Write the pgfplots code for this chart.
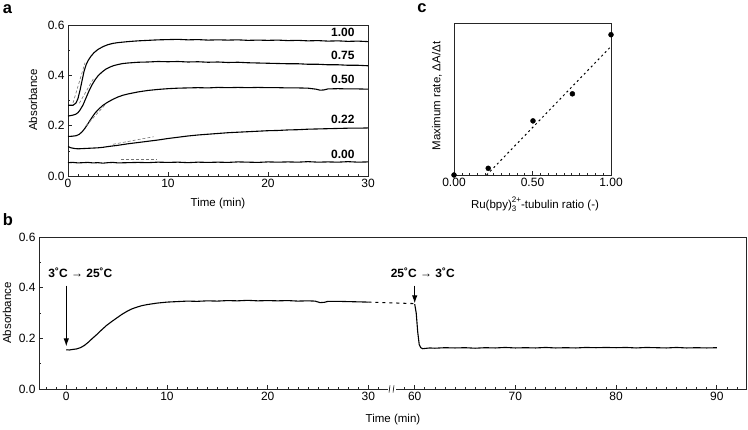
\documentclass[border=0pt]{standalone}
\usepackage{pgfplots}
\pgfplotsset{compat=1.18}
\usepackage{fontspec}
\setmainfont{Liberation Sans}
\usetikzlibrary{arrows.meta}

\pgfplotsset{
  myax/.style={scale only axis, clip=false,
    axis line style={line width=0.8pt, black!85},
    every tick/.style={black!85, line width=0.6pt},
    major tick length=4pt, minor tick length=2pt, tick align=inside,
    xtick pos=left, ytick pos=left,
    tick label style={font=\fontsize{12}{14}\selectfont},
    /pgf/number format/assume math mode=true},
  curve/.style={black, line width=1.1pt, no markers},
  tang/.style={black!55, line width=0.6pt, dash pattern=on 3pt off 2pt},
  yfmt/.style={yticklabel style={/pgf/number format/.cd, fixed, fixed zerofill, precision=1}},
}

\begin{document}
\begin{tikzpicture}[x=1pt,y=1pt]
\useasboundingbox (0,0) rectangle (748,429);

% ---------------- panel a ----------------
\begin{axis}[myax, yfmt, at={(68pt,253pt)}, anchor=south west,
  width=300pt, height=151pt,
  xmin=0, xmax=30, ymin=0, ymax=0.6,
  xtick={0,10,20,30}, minor x tick num=9,
  ytick={0,0.2,0.4,0.6}, minor y tick num=1]
\addplot[curve] table {
0 0.281
0.5 0.281
0.8 0.290
1.0 0.308
1.2 0.340
1.4 0.378
1.6 0.415
1.8 0.441
2.0 0.458
2.3 0.476
2.6 0.490
3.0 0.503
3.5 0.514
4.0 0.522
4.5 0.527
5.0 0.530
6.0 0.534
7.0 0.537
8.0 0.539
9.0 0.541
10 0.542
11 0.543
12 0.541
13 0.542
14 0.540
15 0.541
16 0.540
17 0.541
18 0.539
19 0.540
20 0.539
21 0.540
22 0.538
23 0.539
24 0.537
25 0.538
26 0.536
27 0.537
28 0.535
29 0.536
30 0.534
};
\addplot[curve] table {
0 0.238
0.5 0.242
0.8 0.246
1.0 0.252
1.2 0.262
1.5 0.282
1.8 0.310
2.1 0.338
2.4 0.362
2.7 0.382
3.0 0.398
3.4 0.413
3.8 0.425
4.2 0.433
4.6 0.439
5.0 0.443
5.5 0.447
6.0 0.449
7.0 0.452
8.0 0.453
9.0 0.455
10 0.454
11 0.455
12 0.453
13 0.454
14 0.452
15 0.453
16 0.451
17 0.452
18 0.450
19 0.449
20 0.448
21 0.447
22 0.446
23 0.446
24 0.444
25 0.444
26 0.442
27 0.442
28 0.440
29 0.440
30 0.438
};
\addplot[curve] table {
0 0.157
0.4 0.158
0.8 0.160
1.1 0.165
1.4 0.175
1.7 0.190
2.0 0.208
2.3 0.227
2.7 0.250
3.1 0.267
3.5 0.281
4.0 0.294
4.5 0.305
5.0 0.314
5.5 0.321
6.0 0.326
7.0 0.334
8.0 0.340
9.0 0.344
10 0.347
11 0.349
12 0.350
13 0.351
14 0.350
15 0.352
16 0.351
17 0.352
18 0.351
19 0.352
20 0.351
21 0.351
22 0.350
23 0.350
24 0.349
24.8 0.345
25.2 0.341
25.6 0.342
26 0.346
27 0.347
28 0.346
29 0.346
30 0.345
};
\addplot[curve] table {
0 0.117
0.3 0.112
0.7 0.109
1.0 0.108
1.5 0.109
2.0 0.110
2.5 0.111
3.0 0.112
3.5 0.114
4.0 0.117
5.0 0.122
6.0 0.128
7.0 0.133
8.0 0.138
9.0 0.143
10 0.149
11 0.154
12 0.159
13 0.163
14 0.166
15 0.169
16 0.172
17 0.174
18 0.176
19 0.178
20 0.180
21 0.181
22 0.183
23 0.184
24 0.186
25 0.187
26 0.188
27 0.189
28 0.190
29 0.190
30 0.191
};
\addplot[curve] table {
0 0.053
0.5 0.054
1 0.052
1.5 0.053
2 0.054
2.5 0.052
3 0.053
3.5 0.051
4 0.053
4.5 0.054
5 0.052
6 0.053
7 0.054
8 0.053
9 0.055
10 0.054
11 0.055
12 0.053
13 0.055
14 0.054
15 0.055
16 0.054
17 0.056
18 0.055
19 0.054
20 0.056
21 0.055
22 0.056
23 0.055
24 0.057
25 0.055
26 0.056
27 0.055
28 0.057
29 0.055
30 0.056
};
% tangents
\addplot[tang] coordinates {(0.5,0.29) (1.7,0.45)};
\addplot[tang] coordinates {(1.13,0.289) (2.62,0.392)};
\addplot[tang] coordinates {(1.79,0.199) (3.85,0.289)};
\addplot[tang] coordinates {(4.5,0.126) (8.55,0.156)};
\addplot[tang] coordinates {(5.3,0.065) (8.9,0.065)};
\node[anchor=east, font=\bfseries\fontsize{12}{14}\selectfont] at (axis cs:29.0,0.572) {1.00};
\node[anchor=east, font=\bfseries\fontsize{12}{14}\selectfont] at (axis cs:29.0,0.478) {0.75};
\node[anchor=east, font=\bfseries\fontsize{12}{14}\selectfont] at (axis cs:29.0,0.384) {0.50};
\node[anchor=east, font=\bfseries\fontsize{12}{14}\selectfont] at (axis cs:29.0,0.226) {0.22};
\node[anchor=east, font=\bfseries\fontsize{12}{14}\selectfont] at (axis cs:29.0,0.087) {0.00};
\end{axis}

% ---------------- panel c ----------------
\begin{axis}[myax, at={(454pt,254pt)}, anchor=south west,
  width=157pt, height=152pt,
  xmin=0, xmax=1, ymin=0, ymax=1,
  xtick={0,0.5,1}, xticklabels={0.00,0.50,1.00}, minor x tick num=9,
  ytick=\empty]
\addplot[black, line width=1pt, dash pattern=on 2pt off 3pt] coordinates {(0.208,0) (1.0,0.846)};
\addplot[only marks, mark=*, mark size=2.5pt, black] coordinates {
(0,0) (0.218,0.044) (0.503,0.356) (0.754,0.534) (1.0,0.923)};
\end{axis}

% ---------------- panel b ----------------
\begin{axis}[myax, yfmt, at={(39pt,40pt)}, anchor=south west,
  width=707pt, height=152pt,
  xmin=-2.71, xmax=67.5, ymin=0, ymax=0.6,
  xtick={0,10,20,30,34.6,44.6,54.6,64.6},
  xticklabels={0,10,20,30,60,70,80,90},
  minor xtick={-2,-1,1,2,3,4,5,6,7,8,9,11,12,13,14,15,16,17,18,19,21,22,23,24,25,26,27,28,29,31,33.6,35.6,36.6,37.6,38.6,39.6,40.6,41.6,42.6,43.6,45.6,46.6,47.6,48.6,49.6,50.6,51.6,52.6,53.6,55.6,56.6,57.6,58.6,59.6,60.6,61.6,62.6,63.6,65.6,66.6},
  ytick={0,0.2,0.4,0.6}, minor y tick num=1]
\addplot[curve] table {
0 0.155
0.3 0.154
0.6 0.156
1.0 0.158
1.4 0.163
1.8 0.172
2.2 0.185
2.6 0.200
3.0 0.214
3.5 0.233
4.0 0.251
4.5 0.266
5.0 0.280
5.5 0.294
6.0 0.306
6.5 0.316
7.0 0.323
7.5 0.329
8.0 0.333
9.0 0.339
10 0.343
11 0.345
12 0.347
13 0.346
14 0.348
15 0.347
16 0.349
17 0.348
18 0.350
19 0.348
20 0.349
21 0.348
22 0.349
23 0.347
24 0.348
24.7 0.347
25.2 0.341
25.6 0.342
26 0.346
27 0.346
28 0.345
29 0.344
30 0.343
};
\addplot[black, line width=1.1pt, dash pattern=on 3pt off 4pt] coordinates {(30,0.343) (34.6,0.337)};
\addplot[curve] table[x expr=\thisrowno{0}-25.4, y index=1] {
60 0.335
60.15 0.300
60.3 0.225
60.45 0.175
60.6 0.163
60.8 0.159
61 0.160
61.5 0.162
62 0.161
63 0.163
64 0.162
65 0.163
66 0.161
67 0.163
68 0.162
69 0.164
70 0.162
71 0.163
72 0.162
73 0.164
74 0.162
75 0.163
76 0.162
77 0.164
78 0.163
79 0.164
80 0.163
81 0.164
82 0.162
83 0.164
84 0.163
85 0.162
86 0.164
87 0.162
88 0.163
89 0.162
90 0.163
};
\draw[-{Latex[length=8pt,width=5.5pt]}, line width=1pt] (axis cs:0,0.408) -- (axis cs:0,0.168);
\draw[-{Latex[length=8pt,width=5.5pt]}, line width=1pt] (axis cs:34.6,0.408) -- (axis cs:34.6,0.338);
\node[font=\bfseries\fontsize{12}{14}\selectfont] at (axis cs:1.4,0.458) {3˚C → 25˚C};
\node[font=\bfseries\fontsize{12}{14}\selectfont] at (axis cs:35.4,0.458) {25˚C → 3˚C};
\end{axis}

% axis break on b
\fill[white] (387.5,38) rectangle (395.5,42);
\draw[line width=0.6pt] (389,36.5) .. controls (390.5,38.5) and (388.5,41.5) .. (390,43.5);
\draw[line width=0.6pt] (393,36.5) .. controls (394.5,38.5) and (392.5,41.5) .. (394,43.5);

% labels
\node[font=\fontsize{11.5}{13}\selectfont] at (218,225) {Time (min)};
\node[font=\fontsize{11.5}{13}\selectfont, rotate=90] at (33,329) {Absorbance};
\node[font=\fontsize{11.5}{13}\selectfont] at (535,225) {Ru(bpy)\rlap{\raisebox{-0.45ex}{\fontsize{8}{9}\selectfont 3}}\raisebox{0.95ex}{\fontsize{8}{9}\selectfont 2+}-tubulin ratio (-)};
\node[font=\fontsize{11.5}{13}\selectfont, rotate=90] at (437,333) {Maximum rate, ΔA/Δt};
\node[font=\fontsize{11.5}{13}\selectfont] at (393,9) {Time (min)};
\node[font=\fontsize{11.5}{13}\selectfont, rotate=90] at (7,116) {Absorbance};

\node[font=\bfseries\fontsize{16.5}{18}\selectfont] at (7.5,420) {a};
\node[font=\bfseries\fontsize{16.5}{18}\selectfont] at (8,209.5) {b};
\node[font=\bfseries\fontsize{16.5}{18}\selectfont] at (422,420.5) {c};
\end{tikzpicture}
\end{document}
